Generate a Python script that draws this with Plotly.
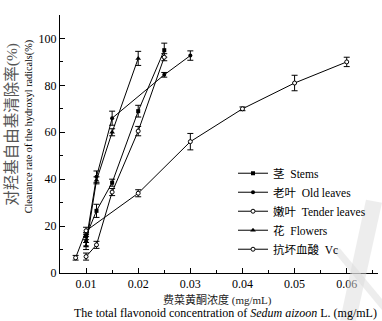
import plotly.graph_objects as go

# ---- data ----
stems_x = [0.010, 0.012, 0.015, 0.020, 0.025]
stems_y = [15.7, 26.5, 38.5, 69.0, 95.0]
stems_err = [1.5, 2.8, 1.5, 2.5, 3.0]

old_x = [0.010, 0.012, 0.015, 0.025, 0.030]
old_y = [13.5, 41.0, 66.0, 84.5, 92.7]
old_err = [2.0, 2.5, 3.0, 1.0, 2.0]

tender_x = [0.010, 0.012, 0.015, 0.020, 0.025]
tender_y = [7.0, 12.0, 34.5, 60.5, 92.0]
tender_err = [1.5, 1.5, 1.5, 2.0, 1.5]

flowers_x = [0.010, 0.012, 0.015, 0.020]
flowers_y = [11.5, 39.5, 60.0, 91.5]
flowers_err = [1.5, 1.5, 1.5, 3.0]

vc_x = [0.008, 0.010, 0.020, 0.030, 0.040, 0.050, 0.060]
vc_y = [6.5, 18.0, 34.0, 56.0, 70.0, 81.0, 90.0]
vc_err = [1.0, 1.5, 1.5, 3.5, 0.8, 3.3, 2.0]

series_names = ["茎  Stems", "老叶  Old leaves", "嫩叶  Tender leaves", "花  Flowers", "抗坏血酸  Vc"]
x_tick_vals = [0.01, 0.02, 0.03, 0.04, 0.05, 0.06]
x_tick_text = ["0.01", "0.02", "0.03", "0.04", "0.05", "0.06"]
y_tick_vals = [0, 20, 40, 60, 80, 100]
y_tick_text = ["0", "20", "40", "60", "80", "100"]

FONT = "Liberation Serif, Noto Sans CJK SC, serif"

W, H = 382, 321
L, R, T, B = 60, 4, 15, 47.5
PW, PH = W - L - R, H - T - B


def px(x):
    return (x - L) / PW


def py(y):
    return (H - B - y) / PH


fig = go.Figure()

styles = [
    (stems_x, stems_y, stems_err, dict(symbol="square", size=4, color="black")),
    (old_x, old_y, old_err, dict(symbol="circle", size=4, color="black")),
    (tender_x, tender_y, tender_err, dict(symbol="circle", size=4, color="white", line=dict(color="black", width=1))),
    (flowers_x, flowers_y, flowers_err, dict(symbol="triangle-up", size=5, color="black")),
    (vc_x, vc_y, vc_err, dict(symbol="circle", size=4, color="white", line=dict(color="black", width=1))),
]

for name, (xs, ys, es, mk) in zip(series_names, styles):
    fig.add_trace(go.Scatter(
        x=xs, y=ys, name=name, mode="lines+markers",
        line=dict(color="black", width=1),
        marker=mk,
        error_y=dict(type="data", array=es, color="black", thickness=1, width=3),
    ))

fig.update_xaxes(
    range=[0.005, 0.066], showline=True, linecolor="black", linewidth=1,
    tickvals=x_tick_vals, ticktext=x_tick_text, ticks="inside", ticklen=5,
    tickcolor="black", showgrid=False, zeroline=False,
    minor=dict(dtick=0.005, tick0=0, ticks="inside", ticklen=3, tickcolor="black", showgrid=False),
    tickfont=dict(family=FONT, size=12, color="black"),
)
fig.update_yaxes(
    range=[0, 110], showline=True, linecolor="black", linewidth=1,
    tickvals=y_tick_vals, ticktext=y_tick_text, ticks="inside", ticklen=5,
    tickcolor="black", showgrid=False, zeroline=False,
    minor=dict(dtick=10, tick0=0, ticks="inside", ticklen=3, tickcolor="black", showgrid=False),
    tickfont=dict(family=FONT, size=12, color="black"),
)

annots = [
    dict(text="对羟基自由基清除率(%)", x=px(12), y=py(125), textangle=-90, size=15.5, color="#555"),
    dict(text="Clearance rate of the hydroxyl radicals(%)", x=px(28.5), y=py(127), textangle=-90, size=10.2, color="black"),
    dict(text="费菜黄酮浓度 (mg/mL)", x=px(217), y=py(301), textangle=0, size=11, color="#222"),
    dict(text="The total flavonoid concentration of <i>Sedum aizoon</i> L. (mg/mL)", x=px(225), y=py(314), textangle=0, size=12, color="black"),
]
for a in annots:
    fig.add_annotation(text=a["text"], x=a["x"], y=a["y"], xref="paper", yref="paper",
                       xanchor="center", yanchor="middle", showarrow=False, textangle=a["textangle"],
                       font=dict(family=FONT, size=a["size"], color=a["color"]))


# watermark strokes (light grey)
def poly(pts):
    return "M " + " L ".join(f"{px(x)},{py(y)}" for x, y in pts) + " Z"


fig.add_shape(type="path", xref="paper", yref="paper", layer="above",
              path=poly([(366, 200), (382, 203), (356, 321), (340, 321)]),
              fillcolor="rgba(220,220,220,0.5)", line=dict(width=0))
fig.add_shape(type="path", xref="paper", yref="paper", layer="above",
              path=poly([(332, 250), (340, 249), (384, 302), (384, 313)]),
              fillcolor="rgba(220,220,220,0.5)", line=dict(width=0))

fig.update_layout(
    width=W, height=H, margin=dict(l=L, r=R, t=T, b=B),
    paper_bgcolor="white", plot_bgcolor="white",
    showlegend=True,
    legend=dict(x=px(233), y=py(159), xanchor="left", yanchor="top",
                bgcolor="rgba(0,0,0,0)", font=dict(family=FONT, size=11.5, color="black"),
                itemwidth=30, tracegroupgap=0),
)

fig.write_html(
    "out.html",
    config={"displayModeBar": False},
    post_script="document.body.style.margin='0';document.body.style.padding='0';"
                "document.documentElement.style.overflow='hidden';",
)
